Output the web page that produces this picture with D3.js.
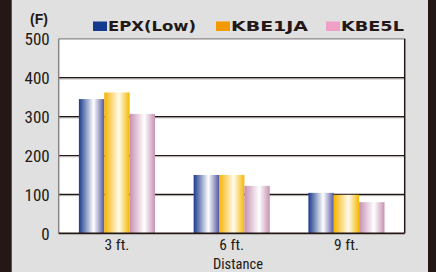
<!DOCTYPE html>
<html>
<head>
<meta charset="utf-8">
<script src="https://cdn.jsdelivr.net/npm/d3@7"></script>
<style>
  body { margin: 0; background: #231816; }
  svg { display: block; }
  .tick-label { font-family: "Liberation Sans Narrow", "Roboto Condensed", "DejaVu Sans Condensed", sans-serif; font-stretch: condensed; fill: #231816; }
</style>
</head>
<body>
<div class="chart_frame"></div>
<script>
// chart data
var distances = ['3 ft.', '6 ft.', '9 ft.'];
var series_names = ['EPX(Low)', 'KBE1JA', 'KBE5L'];
var epx_low = [345, 150, 104];
var kbe1ja = [362, 150, 99];
var kbe5l = [307, 122, 80];
var y_ticks = [0, 100, 200, 300, 400, 500];

var series_values = [epx_low, kbe1ja, kbe5l];

// colours: [edge, light, far edge]
var gradients = [
    ['#1b3a8c', '#ffffff', '#5558a0'],
    ['#f6b400', '#fffbee', '#f6b800'],
    ['#c68fb0', '#ffffff', '#c792b2']
];
var legend_colors = ['#123a8e', '#f39a00', '#f0a0c6'];

var width = 436, height = 272;
var plot = {'left': 58.7, 'right': 404.7, 'top': 38.8, 'bottom': 233.3};

var svg = d3.select('.chart_frame').append('svg')
    .attr('width', width)
    .attr('height', height);

// frame background
svg.append('rect').attr('x', 0).attr('y', 0).attr('width', width).attr('height', height).attr('fill', '#231816');
svg.append('rect').attr('x', 11.7).attr('y', 0).attr('width', 428 - 11.7).attr('height', height).attr('fill', '#dfe0df');

var defs = svg.append('defs');
gradients.forEach(function(g, i) {
    var lg = defs.append('linearGradient').attr('id', 'grad' + i)
        .attr('x1', '0%').attr('x2', '100%').attr('y1', '0%').attr('y2', '0%');
    lg.append('stop').attr('offset', '0%').attr('stop-color', g[0]);
    lg.append('stop').attr('offset', '58%').attr('stop-color', g[1]);
    lg.append('stop').attr('offset', '100%').attr('stop-color', g[2]);
});

var x = d3.scaleBand()
    .domain(distances)
    .range([plot.left, plot.right])
    .paddingInner(0.337)
    .paddingOuter(0.176);

var x_inner = d3.scaleBand()
    .domain(series_names)
    .range([0, x.bandwidth()]);

var y = d3.scaleLinear()
    .domain([0, 500])
    .range([plot.bottom, plot.top]);

// plot background
svg.append('rect')
    .attr('x', plot.left).attr('y', plot.top)
    .attr('width', plot.right - plot.left).attr('height', plot.bottom - plot.top)
    .attr('fill', '#ffffff');

// grid lines (dark line with grey shadow)
var grid = svg.append('g').attr('class', 'grid');
y_ticks.filter(function(t) { return t > 0 && t < 500; }).forEach(function(t) {
    grid.append('line')
        .attr('x1', plot.left).attr('x2', plot.right)
        .attr('y1', y(t) + 1.2).attr('y2', y(t) + 1.2)
        .attr('stroke', '#a9a6a5').attr('stroke-width', 1);
    grid.append('line')
        .attr('x1', plot.left).attr('x2', plot.right)
        .attr('y1', y(t)).attr('y2', y(t))
        .attr('stroke', '#231816').attr('stroke-width', 1.2);
});

// bars
var groups = svg.append('g').selectAll('g')
    .data(distances)
    .enter().append('g')
    .attr('transform', function(d) { return 'translate(' + x(d) + ',0)'; });

groups.selectAll('rect')
    .data(function(d, i) { return series_names.map(function(s, j) { return {'s': s, 'j': j, 'v': series_values[j][i]}; }); })
    .enter().append('rect')
    .attr('x', function(d) { return x_inner(d.s); })
    .attr('y', function(d) { return y(d.v); })
    .attr('width', x_inner.bandwidth())
    .attr('height', function(d) { return y(0) - y(d.v); })
    .attr('fill', function(d) { return 'url(#grad' + d.j + ')'; });

// plot border
svg.append('line').attr('x1', plot.left).attr('x2', plot.right).attr('y1', plot.top).attr('y2', plot.top)
    .attr('stroke', '#8a8685').attr('stroke-width', 1.2);
svg.append('line').attr('x1', plot.left).attr('x2', plot.left).attr('y1', plot.top).attr('y2', plot.bottom)
    .attr('stroke', '#8a8685').attr('stroke-width', 1.5);
svg.append('line').attr('x1', plot.right).attr('x2', plot.right).attr('y1', plot.top).attr('y2', plot.bottom)
    .attr('stroke', '#231816').attr('stroke-width', 1.5);
svg.append('line').attr('x1', plot.left).attr('x2', plot.right).attr('y1', plot.bottom).attr('y2', plot.bottom)
    .attr('stroke', '#231816').attr('stroke-width', 1.8);

// y axis labels
var y_axis = d3.axisLeft(y).tickValues(y_ticks).tickSize(0).tickPadding(9);
var ya = svg.append('g').attr('transform', 'translate(' + plot.left + ',0)').call(y_axis);
ya.select('.domain').remove();
ya.selectAll('text')
    .attr('class', 'tick-label')
    .attr('font-size', 17)
    .attr('dy', '0.36em')
    .attr('fill', '#231816');

// x axis labels
var x_axis = d3.axisBottom(x).tickSize(0).tickPadding(6);
var xa = svg.append('g').attr('transform', 'translate(0,' + plot.bottom + ')').call(x_axis);
xa.select('.domain').remove();
xa.selectAll('text')
    .attr('class', 'tick-label')
    .attr('font-size', 15.5)
    .attr('fill', '#231816');

svg.append('text')
    .attr('class', 'tick-label')
    .attr('x', 238).attr('y', 269)
    .attr('text-anchor', 'middle')
    .attr('font-size', 14.5)
    .text('Distance');

// unit label
svg.append('text')
    .attr('x', 39).attr('y', 24)
    .attr('text-anchor', 'middle')
    .attr('font-family', 'Liberation Sans, sans-serif')
    .attr('font-weight', 'bold')
    .attr('font-size', 14)
    .attr('fill', '#231816')
    .text('(F)');

// legend
var legend_x = [93, 216, 326];
var legend = svg.append('g');
series_names.forEach(function(s, i) {
    legend.append('rect')
        .attr('x', legend_x[i]).attr('y', 21.5)
        .attr('width', 14).attr('height', 9.5)
        .attr('fill', legend_colors[i]);
    legend.append('text')
        .attr('x', legend_x[i] + 15).attr('y', 31)
        .attr('font-family', 'DejaVu Sans, sans-serif')
        .attr('font-weight', 'bold')
        .attr('font-size', 14)
        .attr('fill', '#231816')
        .attr('textLength', [88, 77, 63][i])
        .attr('lengthAdjust', 'spacingAndGlyphs')
        .text(s);
});
</script>
</body>
</html>
